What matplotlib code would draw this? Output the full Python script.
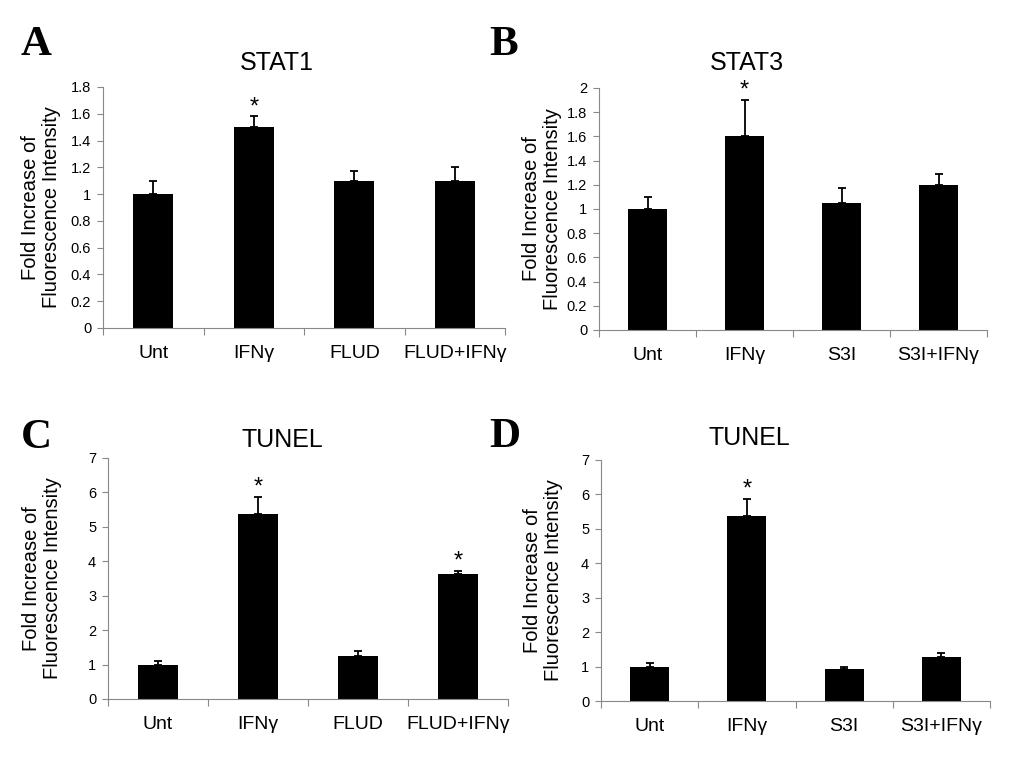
import matplotlib.pyplot as plt

# values
cats_flud = ['Unt', 'IFNγ', 'FLUD', 'FLUD+IFNγ']
cats_s3i = ['Unt', 'IFNγ', 'S3I', 'S3I+IFNγ']

stat1_mean = [1.0, 1.5, 1.1, 1.1]
stat1_err = [0.10, 0.08, 0.07, 0.10]

stat3_mean = [1.0, 1.6, 1.05, 1.2]
stat3_err = [0.10, 0.30, 0.12, 0.09]

tunel_flud_mean = [1.0, 5.36, 1.26, 3.62]
tunel_flud_err = [0.10, 0.52, 0.12, 0.10]

tunel_s3i_mean = [1.0, 5.36, 0.92, 1.29]
tunel_s3i_err = [0.11, 0.52, 0.08, 0.11]

# which bars get a significance star
stat1_star = [False, True, False, False]
stat3_star = [False, True, False, False]
tunel_flud_star = [False, True, False, True]
tunel_s3i_star = [False, True, False, False]

plt.rcParams['font.family'] = ['Liberation Sans', 'DejaVu Sans']

W, H = 1033, 767
fig = plt.figure(figsize=(W / 100, H / 100), dpi=100)


def panel(rect, cats, mean, err, stars, title, title_xy, letter, letter_xy,
          ylab_x, ymax, ystep, fmt):
    ax = fig.add_axes(rect)
    x = list(range(len(cats)))
    ax.bar(x, mean, width=0.4, color='black', zorder=2)
    ax.errorbar(x, mean, yerr=[[0] * len(err), err], fmt='none',
                ecolor='black', elinewidth=1.3, capsize=3, capthick=1.3, zorder=3)
    for xi, m, e, s in zip(x, mean, err, stars):
        if s:
            ax.text(xi, m + e - ymax * 0.008, '*', ha='center', va='bottom',
                    fontsize=17)
    ax.set_xlim(-0.5, len(cats) - 0.5)
    ax.set_ylim(0, ymax)
    yt = [i * ystep for i in range(int(round(ymax / ystep)) + 1)]
    ax.set_yticks(yt)
    ax.set_yticklabels([fmt(v) for v in yt], fontsize=10.5)
    ax.set_xticks([i - 0.5 for i in range(len(cats) + 1)])
    ax.set_xticklabels([])
    ax.set_xticks(x, minor=True)
    ax.set_xticklabels(cats, minor=True, fontsize=14)
    ax.tick_params(axis='x', which='minor', length=0, pad=12)
    ax.tick_params(axis='x', which='major', length=5, color='#888888')
    ax.tick_params(axis='y', length=4, color='#888888', pad=4.5)
    for side in ['top', 'right']:
        ax.spines[side].set_visible(False)
    for side in ['left', 'bottom']:
        ax.spines[side].set_color('#888888')
    ax.set_ylabel('Fold Increase of\nFluorescence Intensity', fontsize=14.5,
                  linespacing=1.1, va='center')
    ax.yaxis.set_label_coords(ylab_x, 0.5)
    fig.text(title_xy[0] / W, 1 - title_xy[1] / H, title, fontsize=18,
             ha='center', va='center')
    fig.text(letter_xy[0] / W, 1 - letter_xy[1] / H, letter, fontsize=31,
             fontweight='bold', family='Liberation Serif', va='center', ha='left')
    return ax


def f1(v):
    return ('%.1f' % v).rstrip('0').rstrip('.') if v else '0'


def f0(v):
    return '%d' % v


panel([0.0997, 0.5724, 0.3893, 0.3142], cats_flud, stat1_mean, stat1_err,
      stat1_star, 'STAT1', (277, 63), 'A', (21, 45), -0.154, 1.8, 0.2, f1)
panel([0.5799, 0.5698, 0.3756, 0.3155], cats_s3i, stat3_mean, stat3_err,
      stat3_star, 'STAT3', (747, 63), 'B', (489, 45), -0.147, 2.0, 0.2, f1)
panel([0.1045, 0.0887, 0.3873, 0.3142], cats_flud, tunel_flud_mean, tunel_flud_err,
      tunel_flud_star, 'TUNEL', (282, 440), 'C', (21, 438), -0.165, 7, 1, f0)
panel([0.5818, 0.0860, 0.3766, 0.3143], cats_s3i, tunel_s3i_mean, tunel_s3i_err,
      tunel_s3i_star, 'TUNEL', (749, 438), 'D', (489, 437), -0.149, 7, 1, f0)

fig.savefig('out.png', dpi=100)
